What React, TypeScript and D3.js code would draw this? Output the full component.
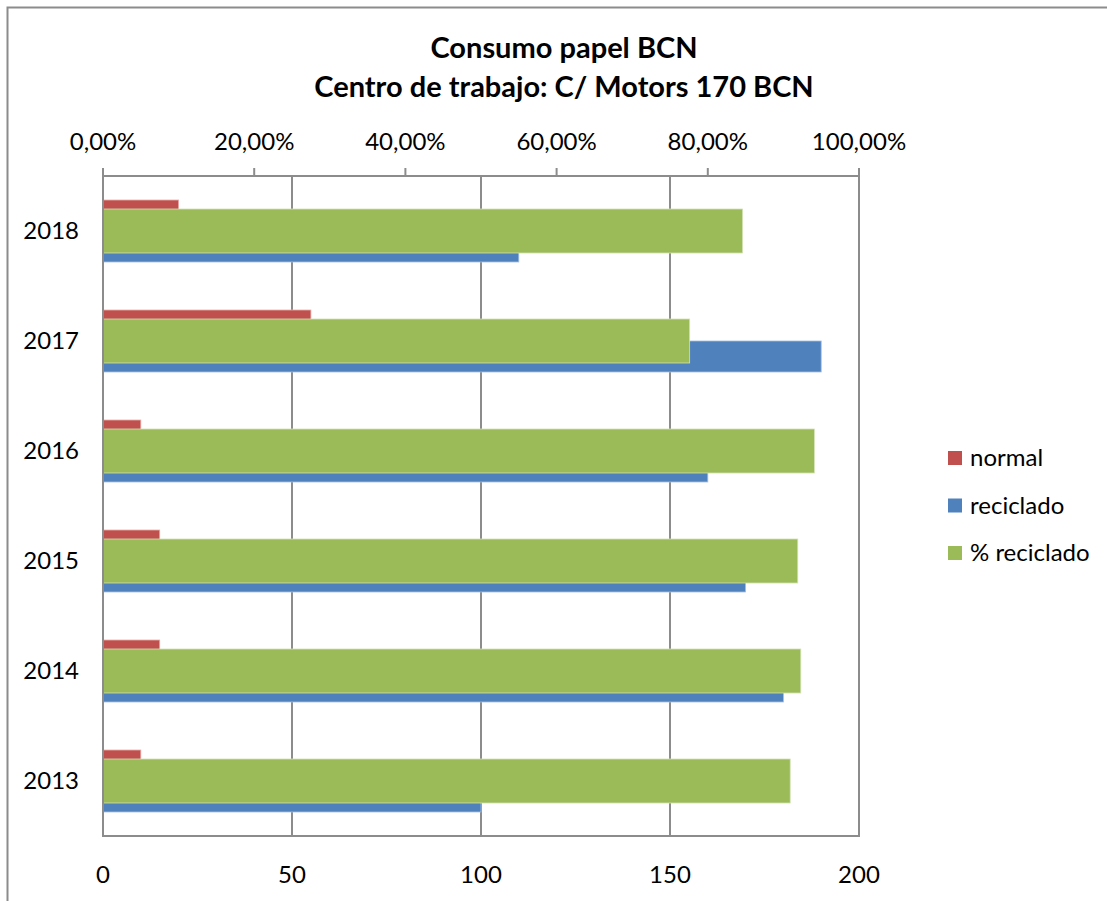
import React, { useEffect, useRef } from 'react';
import * as d3 from 'd3';

// Chart data
const years = ['2018', '2017', '2016', '2015', '2014', '2013'];
const normal = [20, 55, 10, 15, 15, 10];
const reciclado = [110, 190, 160, 170, 180, 100];
const pctReciclado = [0.846, 0.776, 0.941, 0.919, 0.923, 0.909];
const bottomTicks = [0, 50, 100, 150, 200];
const topTicks = [0, 0.2, 0.4, 0.6, 0.8, 1.0];

const COLORS = { normal: '#C0504D', reciclado: '#4F81BD', pct: '#9BBB59' };
const FONT = 'Lato, "Open Sans", sans-serif';

const App: React.FC = () => {
  const svgRef = useRef<SVGSVGElement>(null);

  useEffect(() => {
    if (!svgRef.current) return;
    const svg = d3.select(svgRef.current);
    svg.selectAll('*').remove();

    const width = 1107;
    const height = 901;
    const plot = { left: 103, right: 859, top: 176, bottom: 836 };

    // outer chart border
    svg.append('rect')
      .attr('x', 7.5).attr('y', 7.5)
      .attr('width', width + 20).attr('height', height + 20)
      .attr('fill', '#fff')
      .attr('stroke', '#8c8c8c')
      .attr('stroke-width', 2);

    const x = d3.scaleLinear().domain([0, 200]).range([plot.left, plot.right]);
    const xPct = d3.scaleLinear().domain([0, 1]).range([plot.left, plot.right]);
    const y = d3.scaleBand().domain(years).range([plot.top, plot.bottom]).paddingInner(0).paddingOuter(0);

    // group of two primary bars, gap width 150%
    const band = y.bandwidth();
    const groupH = band / 1.775;
    const sub = d3.scaleBand().domain(['normal', 'reciclado'])
      .range([(band - groupH) / 2, (band + groupH) / 2]);
    const pctH = band / 2.5;

    // title
    const title = svg.append('text')
      .attr('text-anchor', 'middle')
      .attr('font-family', FONT)
      .attr('font-weight', 'bold')
      .attr('font-size', '29px')
      .attr('fill', '#000');
    title.append('tspan').attr('x', 564).attr('y', 58).text('Consumo papel BCN');
    title.append('tspan').attr('x', 564).attr('y', 97).text('Centro de trabajo: C/ Motors 170 BCN');

    // vertical gridlines (primary axis)
    svg.append('g').selectAll('line')
      .data(bottomTicks.slice(1))
      .enter().append('line')
      .attr('x1', (d) => x(d)).attr('x2', (d) => x(d))
      .attr('y1', plot.top).attr('y2', plot.bottom)
      .attr('stroke', '#8c8c8c')
      .attr('stroke-width', 2);

    // primary bars
    const g = svg.append('g');
    years.forEach((yr, i) => {
      const y0 = y(yr) as number;
      g.append('rect')
        .attr('x', x(0)).attr('y', y0 + (sub('normal') as number))
        .attr('width', x(normal[i]) - x(0)).attr('height', sub.bandwidth())
        .attr('fill', COLORS.normal)
        .attr('stroke', '#e8a9a7').attr('stroke-width', 0.8);
      g.append('rect')
        .attr('x', x(0)).attr('y', y0 + (sub('reciclado') as number))
        .attr('width', x(reciclado[i]) - x(0)).attr('height', sub.bandwidth())
        .attr('fill', COLORS.reciclado)
        .attr('stroke', '#a4bfe0').attr('stroke-width', 0.8);
    });

    // secondary bars (% reciclado) drawn on top
    years.forEach((yr, i) => {
      const y0 = y(yr) as number;
      g.append('rect')
        .attr('x', xPct(0)).attr('y', y0 + (band - pctH) / 2)
        .attr('width', xPct(pctReciclado[i]) - xPct(0)).attr('height', pctH)
        .attr('fill', COLORS.pct)
        .attr('stroke', '#d3e2b6').attr('stroke-width', 0.8);
    });

    // plot frame: left and bottom axes, right edge
    svg.append('path')
      .attr('d', `M${plot.left},${plot.top}V${plot.bottom}H${plot.right}V${plot.top}`)
      .attr('fill', 'none')
      .attr('stroke', '#8c8c8c')
      .attr('stroke-width', 2);

    // top (secondary) axis
    const topG = svg.append('g');
    topG.append('line')
      .attr('x1', plot.left).attr('x2', plot.right)
      .attr('y1', plot.top).attr('y2', plot.top)
      .attr('stroke', '#8c8c8c').attr('stroke-width', 2);
    topG.selectAll('line.tick')
      .data(topTicks)
      .enter().append('line')
      .attr('class', 'tick')
      .attr('x1', (d) => xPct(d)).attr('x2', (d) => xPct(d))
      .attr('y1', plot.top - 8).attr('y2', plot.top)
      .attr('stroke', '#8c8c8c').attr('stroke-width', 2);
    topG.selectAll('text')
      .data(topTicks)
      .enter().append('text')
      .attr('x', (d) => xPct(d))
      .attr('y', 150)
      .attr('text-anchor', 'middle')
      .attr('font-family', FONT)
      .attr('font-size', '24px')
      .attr('fill', '#000')
      .text((d) => (d * 100).toFixed(2).replace('.', ',') + '%');

    // bottom (primary) axis labels
    svg.append('g').selectAll('text')
      .data(bottomTicks)
      .enter().append('text')
      .attr('x', (d) => x(d))
      .attr('y', 883)
      .attr('text-anchor', 'middle')
      .attr('font-family', FONT)
      .attr('font-size', '24px')
      .attr('fill', '#000')
      .text((d) => String(d));

    // category labels
    svg.append('g').selectAll('text')
      .data(years)
      .enter().append('text')
      .attr('x', 79)
      .attr('y', (d) => (y(d) as number) + band / 2 + 8)
      .attr('text-anchor', 'end')
      .attr('font-family', FONT)
      .attr('font-size', '24px')
      .attr('fill', '#000')
      .text((d) => d);

    // legend
    const legend = [
      { label: 'normal', color: COLORS.normal },
      { label: 'reciclado', color: COLORS.reciclado },
      { label: '% reciclado', color: COLORS.pct },
    ];
    const lg = svg.append('g');
    legend.forEach((item, i) => {
      const cy = 458 + i * 47.5;
      lg.append('rect')
        .attr('x', 948).attr('y', cy - 7)
        .attr('width', 14).attr('height', 14)
        .attr('fill', item.color);
      lg.append('text')
        .attr('x', 970).attr('y', cy + 8)
        .attr('font-family', FONT)
        .attr('font-size', '24px')
        .attr('fill', '#000')
        .text(item.label);
    });
  }, []);

  return (
    <svg
      ref={svgRef}
      width={1107}
      height={901}
      style={{ position: 'absolute', left: 0, top: 0, display: 'block', background: '#fff' }}
    />
  );
};

export default App;
